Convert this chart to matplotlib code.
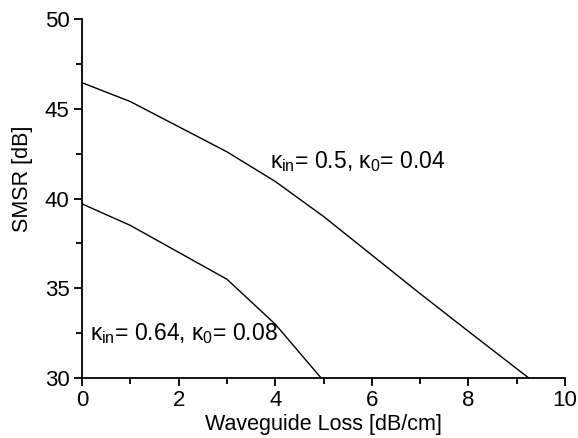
import matplotlib
matplotlib.use("Agg")
import matplotlib.pyplot as plt
from matplotlib.ticker import MultipleLocator

plt.rcParams['font.family'] = ['Liberation Sans', 'DejaVu Sans']
plt.rcParams['mathtext.fontset'] = 'custom'
plt.rcParams['mathtext.rm'] = 'Liberation Sans'
plt.rcParams['mathtext.it'] = 'Liberation Sans'
plt.rcParams['mathtext.bf'] = 'Liberation Sans:bold'

loss_a = [0, 1, 2, 3, 4, 5, 6, 7, 8, 9.25]
smsr_a = [46.45, 45.4, 44.0, 42.6, 40.95, 39.0, 36.85, 34.7, 32.6, 30.0]
loss_b = [0, 1, 2, 3, 4, 4.95]
smsr_b = [39.7, 38.5, 37.0, 35.5, 33.0, 30.0]
label_a = r'$\kappa_{\mathrm{in}}$= 0.5, $\kappa_{0}$= 0.04'
label_b = r'$\kappa_{\mathrm{in}}$= 0.64, $\kappa_{0}$= 0.08'

fig = plt.figure(figsize=(5.78, 4.38), dpi=100)
ax = fig.add_axes([0.142, 0.137, 0.8355, 0.8196])
ax.plot(loss_a, smsr_a, color='black', lw=1.0)
ax.plot(loss_b, smsr_b, color='black', lw=1.0)
ax.set_xlim(0, 10)
ax.set_ylim(30, 50)
ax.xaxis.set_major_locator(MultipleLocator(2))
ax.xaxis.set_minor_locator(MultipleLocator(1))
ax.yaxis.set_major_locator(MultipleLocator(5))
ax.yaxis.set_minor_locator(MultipleLocator(2.5))
for s in ['top', 'right']:
    ax.spines[s].set_visible(False)
for s in ['left', 'bottom']:
    ax.spines[s].set_linewidth(1.3)
ax.tick_params(which='major', direction='out', length=6, width=1.3, labelsize=16, pad=3)
ax.tick_params(which='minor', direction='out', length=4, width=1.3)
ax.set_xlabel('Waveguide Loss [dB/cm]', fontsize=15.5, labelpad=2)
ax.set_ylabel('SMSR [dB]', fontsize=15.5)
ax.yaxis.set_label_coords(-0.102, 0.554)
ax.text(3.9, 41.7, label_a, fontsize=16.5, va='baseline', ha='left')
ax.text(0.17, 32.12, label_b, fontsize=16.5, va='baseline', ha='left')
fig.savefig('out.png', dpi=100)
